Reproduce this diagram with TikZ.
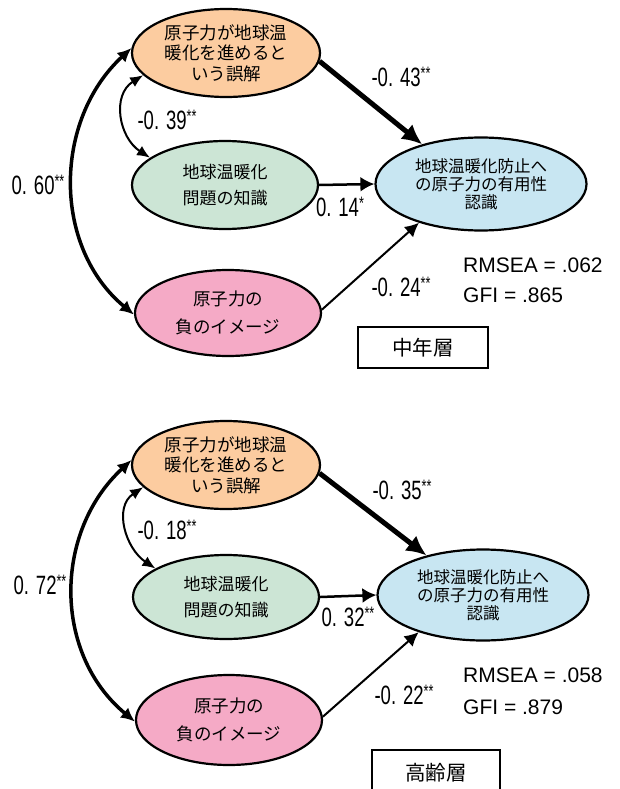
\documentclass[tikz,border=0pt]{standalone}
\usepackage{fontspec}
\setmainfont{Liberation Sans}
\newfontfamily\jp{Noto Sans CJK JP}
\newfontfamily\cond[FakeStretch=0.7]{Liberation Sans}
\usetikzlibrary{arrows.meta,shapes.geometric}
\definecolor{cOrange}{RGB}{252,204,160}
\definecolor{cGreen}{RGB}{204,229,213}
\definecolor{cPink}{RGB}{245,170,198}
\definecolor{cBlue}{RGB}{200,230,242}
\newcommand\sig[1]{\raisebox{6.5pt}{\fontsize{18}{18}\selectfont #1}}
\tikzset{
  ell/.style={ellipse, draw=black, line width=2.2pt, inner sep=0pt, align=center},
  eorange/.style={ell, fill=cOrange, minimum width=188pt, minimum height=88pt, font=\jp\fontsize{17.5}{20.5}\selectfont},
  egreen/.style={ell, fill=cGreen, minimum width=186pt, minimum height=88pt, font=\jp\fontsize{17}{26.5}\selectfont},
  epink/.style={ell, fill=cPink, minimum width=186pt, minimum height=86pt, font=\jp\fontsize{17.5}{27.5}\selectfont},
  eblue/.style={ell, fill=cBlue, minimum width=211pt, minimum height=93pt, font=\jp\fontsize{16.5}{18}\selectfont},
  coef/.style={font=\cond\fontsize{26.5}{26.5}\selectfont, inner sep=0pt},
  fitstat/.style={font=\fontsize{21}{21}\selectfont, inner sep=0pt, anchor=west},
  panelbox/.style={draw=black, line width=1.6pt, inner sep=0pt, font=\jp\fontsize{20.5}{20.5}\selectfont},
  heavyarrow/.style={line width=5pt, -{Latex[length=20pt,width=19pt]}},
  midarrow/.style={line width=2.5pt, -{Latex[length=14pt,width=15pt]}},
  thinarrow/.style={line width=2pt, -{Latex[length=14pt,width=14pt]}},
  corrthick/.style={line width=3.5pt, {Latex[length=14pt,width=13pt]}-{Latex[length=14pt,width=13pt]}},
  corrthin/.style={line width=2pt, {Latex[length=13pt,width=11pt]}-{Latex[length=13pt,width=11pt]}}
}
\begin{document}
\begin{tikzpicture}[x=1pt,y=-1pt]
\useasboundingbox (0,0) rectangle (619,789);

% ---------- top panel ----------
\node[eorange] (o1) at (226,53) {原子力が地球温\\暖化を進めると\\いう誤解};
\node[egreen]  (g1) at (225,185) {地球温暖化\\問題の知識};
\node[epink]   (p1) at (228,313) {原子力の\\負のイメージ};
\node[eblue]   (b1) at (481,184) {地球温暖化防止へ\\の原子力の有用性\\認識};

\draw[heavyarrow] (o1.-5) -- (b1.146);
\draw[midarrow] (g1.east) -- (b1.west);
\draw[thinarrow] (p1.2) -- (b1.212);
\draw[corrthin] (o1.195) .. controls +(-32,20) and +(-31,-20) .. (g1.160);
\draw[corrthick] (o1.177) .. controls +(-78,72) and +(-82,-68) .. (p1.181);

\node[coef] (c1a) at (167,120) {-0. 39\sig{**}};
\node[coef] (c1b) at (38,185) {0. 60\sig{**}};
\node[coef] (c1c) at (401,77) {-0. 43\sig{**}};
\node[coef] (c1d) at (340,207) {0. 14\sig{*}};
\node[coef] (c1e) at (401,287) {-0. 24\sig{**}};
\node[fitstat] (s1a) at (463,265) {RMSEA = .062};
\node[fitstat] (s1b) at (463,295) {GFI = .865};
\node[panelbox, minimum width=130pt, minimum height=41pt] (box1) at (423,347.5) {中年層};

% ---------- bottom panel ----------
\node[eorange] (o2) at (226,465) {原子力が地球温\\暖化を進めると\\いう誤解};
\node[egreen, minimum height=84pt]  (g2) at (226,597) {地球温暖化\\問題の知識};
\node[epink, minimum height=90pt]   (p2) at (229,720) {原子力の\\負のイメージ};
\node[eblue, minimum height=91pt]   (b2) at (483,595) {地球温暖化防止へ\\の原子力の有用性\\認識};

\draw[heavyarrow] (o2.-5) -- (b2.145);
\draw[midarrow] (g2.east) -- (b2.west);
\draw[thinarrow] (p2.2) -- (b2.210);
\draw[corrthin] (o2.195) .. controls +(-30,20) and +(-30,-20) .. (g2.158);
\draw[corrthick] (o2.177) .. controls +(-78,72) and +(-82,-68) .. (p2.181);

\node[coef] (c2a) at (167,530) {-0. 18\sig{**}};
\node[coef] (c2b) at (40,585) {0. 72\sig{**}};
\node[coef] (c2c) at (402,490) {-0. 35\sig{**}};
\node[coef] (c2d) at (348,617) {0. 32\sig{**}};
\node[coef] (c2e) at (404,695) {-0. 22\sig{**}};
\node[fitstat] (s2a) at (463,675) {RMSEA = .058};
\node[fitstat] (s2b) at (463,707) {GFI = .879};
\node[panelbox, minimum width=128pt, minimum height=46pt] (box2) at (436,773) {高齢層};
\end{tikzpicture}
\end{document}
